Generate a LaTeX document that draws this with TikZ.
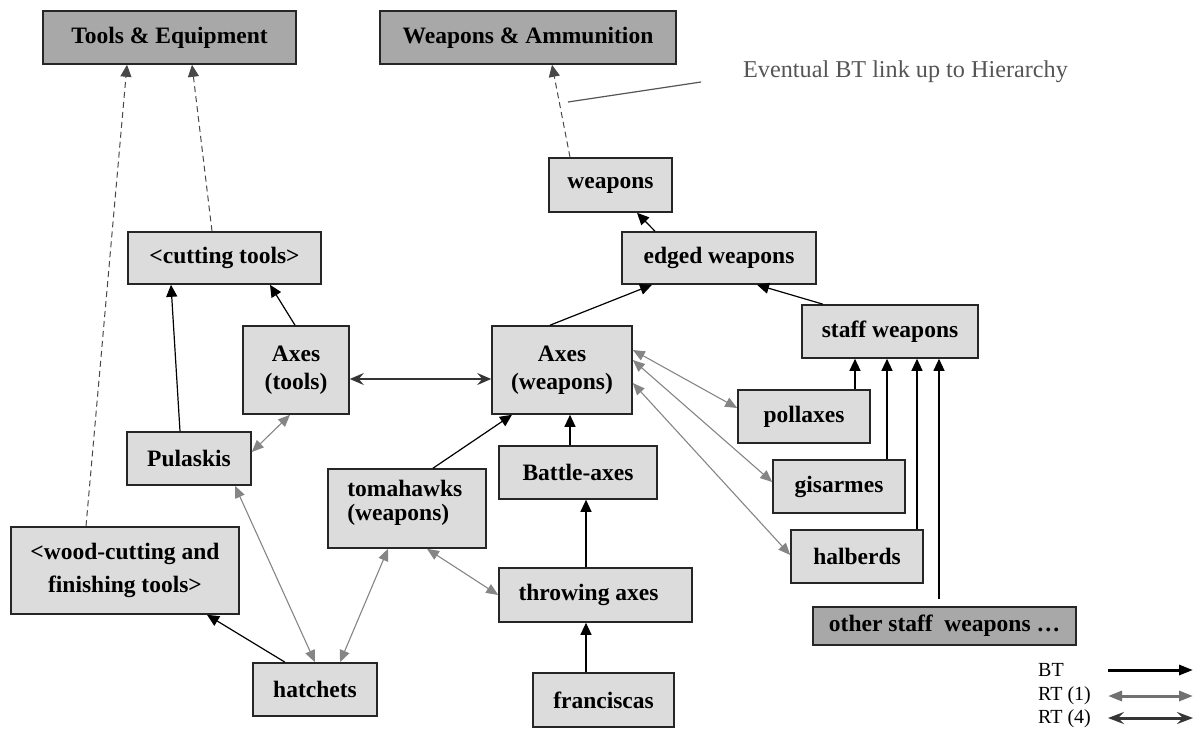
\documentclass[tikz,border=0pt]{standalone}
\usepackage{fontspec}
\setmainfont{Liberation Serif}
\usetikzlibrary{arrows.meta}
\definecolor{boxlight}{HTML}{DCDCDC}
\definecolor{boxdark}{HTML}{A8A8A8}
\definecolor{rtgray}{HTML}{858585}
\definecolor{rtdark}{HTML}{353535}
\definecolor{dashgray}{HTML}{484848}
\definecolor{evgray}{HTML}{555555}
\begin{document}
\begin{tikzpicture}[x=1pt,y=-1pt,
  lbox/.style={draw=black!85, line width=1.6pt, fill=boxlight, inner sep=0pt,
    font=\bfseries\fontsize{23.5}{28}\selectfont, align=center},
  dbox/.style={lbox, fill=boxdark},
  lbl/.style={inner sep=0pt, font=\bfseries\fontsize{23.5}{24}\selectfont},
  bt/.style={-{Triangle[length=12pt,width=11pt]}, line width=1.2pt, black},
  rtone/.style={{Triangle[length=12pt,width=10pt]}-{Triangle[length=12pt,width=10pt]}, line width=1.1pt, rtgray},
  rtfour/.style={{Stealth[length=14pt,width=12pt,inset=5pt]}-{Stealth[length=14pt,width=12pt,inset=5pt]}, line width=1.2pt, rtdark},
  uplink/.style={dashed, dash pattern=on 6pt off 4pt, line width=1pt, dashgray, -{Triangle[length=12pt,width=11pt]}},
  legtxt/.style={inner sep=0pt, anchor=west, font=\fontsize{20}{22}\selectfont},
]
\useasboundingbox (0,0) rectangle (1193,729);

% boxes
\node[dbox, minimum width=253pt, minimum height=53pt] (te) at (169.5,37.5) {Tools \& Equipment};
\node[dbox, minimum width=296pt, minimum height=53pt] (wa) at (528,37.5) {Weapons \& Ammunition};
\node[lbox, minimum width=123pt, minimum height=54pt] (weap) at (610.5,185) {weapons};
\node[lbox, minimum width=194pt, minimum height=52pt] (edged) at (719,258) {edged weapons};
\node[lbox, minimum width=193pt, minimum height=52pt] (cut) at (224.5,258) {<cutting tools>};
\node[lbox, minimum width=106pt, minimum height=88pt] (axt) at (296,370) {Axes\\(tools)};
\node[lbox, minimum width=140pt, minimum height=88pt] (axw) at (562,370) {Axes\\(weapons)};
\node[lbox, minimum width=176pt, minimum height=53pt] (staff) at (890,331.5) {staff weapons};
\node[lbox, minimum width=132pt, minimum height=53pt] (pol) at (804,416.5) {pollaxes};
\node[lbox, minimum width=132pt, minimum height=53pt] (gis) at (839,486.5) {gisarmes};
\node[lbox, minimum width=132pt, minimum height=53pt] (hal) at (857,556.5) {halberds};
\node[dbox, minimum width=263pt, minimum height=38pt] (other) at (944.5,626) {other staff\hspace{0.5em}weapons …};
\node[lbox, minimum width=124pt, minimum height=53pt] (pul) at (189,458.5) {Pulaskis};
\node[lbox, minimum width=158pt, minimum height=79pt] (tom) at (407,508.5) {};
\node[lbl, anchor=west, align=left] (tomtxt) at ([xshift=20pt,yshift=6pt]tom.west) {tomahawks\\(weapons)};
\node[lbox, minimum width=158pt, minimum height=53pt] (bat) at (578,472.5) {Battle-axes};
\node[lbox, minimum width=193pt, minimum height=54pt] (thr) at (595.5,595) {throwing axes\hspace{14pt}};
\node[lbox, minimum width=141pt, minimum height=54pt] (fra) at (603.5,700) {franciscas};
\node[lbox, minimum width=228pt, minimum height=87pt, font=\bfseries\fontsize{23.5}{33}\selectfont] (wood) at (125,570.5) {<wood-cutting and\\finishing tools>};
\node[lbox, minimum width=124pt, minimum height=53pt] (hat) at (315,689.5) {hatchets};

% eventual note
\node[inner sep=0pt, anchor=west, text=evgray, font=\fontsize{24.2}{26}\selectfont] (ev) at (743,72) {Eventual BT link up to Hierarchy};
\coordinate (evA) at (701,82);
\coordinate (evB) at (568,102);
\draw[line width=1.2pt, evgray] (evA) -- (evB);

% dashed links to hierarchy
\draw[uplink] ([xshift=-40.5pt]weap.north) -- ([xshift=24pt]wa.south);
\draw[uplink] ([xshift=-12.5pt]cut.north) -- ([xshift=22.5pt]te.south);
\draw[uplink] ([xshift=-39pt]wood.north) -- ([xshift=-42.5pt]te.south);

% BT links
\draw[bt] ([xshift=-64pt]edged.north) -- ([xshift=26.5pt]weap.south);
\draw[bt] ([xshift=-12pt]axw.north) -- ([xshift=-67pt]edged.south);
\draw[bt] ([xshift=-67pt]staff.north) -- ([xshift=38pt]edged.south);
\draw[bt] ([xshift=-1pt]axt.north) -- ([xshift=45.5pt]cut.south);
\draw[bt] ([xshift=-9pt]pul.north) -- ([xshift=-53.5pt]cut.south);
\draw[bt] ([xshift=51pt]pol.north) -- ([xshift=-35pt]staff.south);
\draw[bt] ([xshift=48pt]gis.north) -- ([xshift=-3pt]staff.south);
\draw[bt] ([xshift=60pt]hal.north) -- ([xshift=27pt]staff.south);
\draw[bt] ([xshift=-5.5pt,yshift=7pt]other.north) -- ([xshift=49pt]staff.south);
\draw[bt] ([xshift=-8pt]bat.north) -- ([xshift=8pt]axw.south);
\draw[bt] ([xshift=26pt]tom.north) -- ([xshift=-50pt]axw.south);
\draw[bt] ([xshift=-9.5pt]thr.north) -- ([xshift=8pt]bat.south);
\draw[bt] ([xshift=-17.5pt]fra.north) -- ([xshift=-9.5pt]thr.south);
\draw[bt] ([xshift=-30pt]hat.north) -- ([xshift=82pt]wood.south);

% RT (4)
\draw[rtfour] ([yshift=-9pt]axt.east) -- ([yshift=-9pt]axw.west);

% RT (1)
\draw[rtone] ([xshift=-6pt]axt.south) -- ([yshift=6.5pt]pul.east);
\draw[rtone] ([yshift=20pt]axw.east) -- ([yshift=8.5pt]pol.west);
\draw[rtone] ([yshift=10pt]axw.east) -- ([yshift=4.5pt]gis.west);
\draw[rtone] ([yshift=-13pt]axw.east) -- ([yshift=1.5pt]hal.west);
\draw[rtone] ([xshift=20pt]tom.south) -- (thr.west);
\draw[rtone] ([xshift=46pt]pul.south) -- (hat.north);
\draw[rtone] ([xshift=-19pt]tom.south) -- ([xshift=25pt]hat.north);

% legend
\node[legtxt] (lbt) at (1038,670) {BT};
\node[legtxt] (lrt1) at (1038,696) {RT (1)};
\node[legtxt] (lrt4) at (1038,719) {RT (4)};
\coordinate (la1) at (1108,670); \coordinate (lb1) at (1193,670);
\coordinate (la2) at (1108,696); \coordinate (lb2) at (1193,696);
\coordinate (la3) at (1108,718); \coordinate (lb3) at (1193,718);
\draw[line width=3pt, black, -{Triangle[length=14pt,width=10pt]}] (la1) -- (lb1);
\draw[line width=3pt, rtgray!85!black, {Triangle[length=14pt,width=10pt]}-{Triangle[length=14pt,width=10pt]}] (la2) -- (lb2);
\draw[line width=3pt, rtdark, {Stealth[length=16pt,width=12pt,inset=6pt]}-{Stealth[length=16pt,width=12pt,inset=6pt]}] (la3) -- (lb3);
\end{tikzpicture}
\end{document}
